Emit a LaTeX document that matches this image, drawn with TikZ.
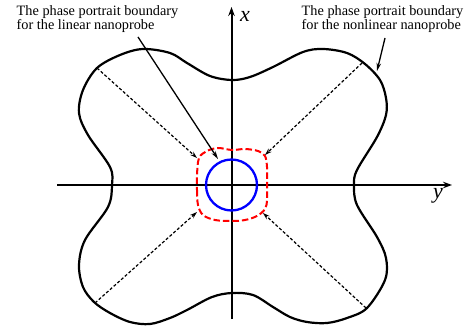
\documentclass[tikz,border=0pt]{standalone}
\usepackage{fontspec}
\setmainfont{Liberation Serif}
\usetikzlibrary{arrows.meta}
\begin{document}
\begin{tikzpicture}[x=1pt,y=-1pt,
  axis/.style={line width=2pt,-{Stealth[length=9pt,width=6.5pt]}},
  outer/.style={line width=2.2pt,black},
  nlb/.style={line width=2pt,red,dash pattern=on 6.5pt off 3pt},
  darrow/.style={line width=1.2pt,dash pattern=on 3pt off 2pt,-{Stealth[length=7pt,width=4.5pt]}},
  parrow/.style={line width=1.3pt,-{Stealth[length=8pt,width=4.5pt]}},
  lab/.style={font=\fontsize{14.3}{14}\selectfont,align=left,inner sep=0pt,anchor=north west},
  axlab/.style={font=\fontsize{22}{22}\selectfont\itshape,inner sep=0pt}]
\useasboundingbox (0,0) rectangle (473,328);
% axes
\coordinate (xl) at (57,185);
\coordinate (xr) at (452,185);
\coordinate (yb) at (231.5,319);
\coordinate (yt) at (231.5,7);
\draw[axis] (xl) -- (xr);
\draw[axis] (yb) -- (yt);
\node[axlab] (lx) at (245,16) {x};
\node[axlab] (ly) at (438,196) {y};
% outer boundary
\draw[outer] plot[smooth cycle,tension=0.55] coordinates {
 (232,80) (250,77) (273,67) (303,52) (323,49) (347,53) (365,64) (380,80) (386,98) (386,115) (377,137) (357,170) (354,185) (357,205) (377,237) (386,258) (385,280) (367,308) (347,318) (327,323) (307,322) (290,317) (273,307) (253,295) (232,293) (212,297) (187,310) (170,318) (150,324) (130,322) (110,313) (94,302) (83,287) (79,265) (85,240) (108,207) (112,185) (110,167) (88,135) (79,113) (83,90) (97,68) (120,55) (143,49) (170,53) (187,63) (210,76)};
% nonlinear (red) boundary
\draw[nlb] plot[smooth cycle,tension=0.55] coordinates {
 (197,175) (197,190) (198,205) (203,215) (215,220) (232,221) (245,220) (257,216) (265,209) (267,200) (267,183) (267,167) (265,156) (258,151) (245,149) (232,150) (218,148) (207,151) (199,158)};
% linear (blue) boundary
\node[draw=blue,line width=2.3pt,circle,minimum size=51pt,inner sep=0pt] (blue) at (231.5,185) {};
% dashed arrows
\coordinate (ul0) at (97,68);  \coordinate (ul1) at (197,158);
\coordinate (ll0) at (95,303); \coordinate (ll1) at (197,212);
\coordinate (ur0) at (362,63); \coordinate (ur1) at (265,155);
\coordinate (lr0) at (366,308);\coordinate (lr1) at (263,213);
\draw[darrow] (ul0) -- (ul1);
\draw[darrow] (ll0) -- (ll1);
\draw[darrow] (ur0) -- (ur1);
\draw[darrow] (lr0) -- (lr1);
% labels
\node[lab] (tl) at (16.5,5.5) {The phase portrait boundary\\for the linear nanoprobe};
\node[lab] (tr) at (301.5,5.5) {The phase portrait boundary\\for the nonlinear nanoprobe};
\coordinate (pl0) at (138,37); \coordinate (pl1) at (218,159);
\coordinate (pr0) at (385,38); \coordinate (pr1) at (377,71);
\draw[parrow] (pl0) -- (pl1);
\draw[parrow] (pr0) -- (pr1);
\end{tikzpicture}
\end{document}
